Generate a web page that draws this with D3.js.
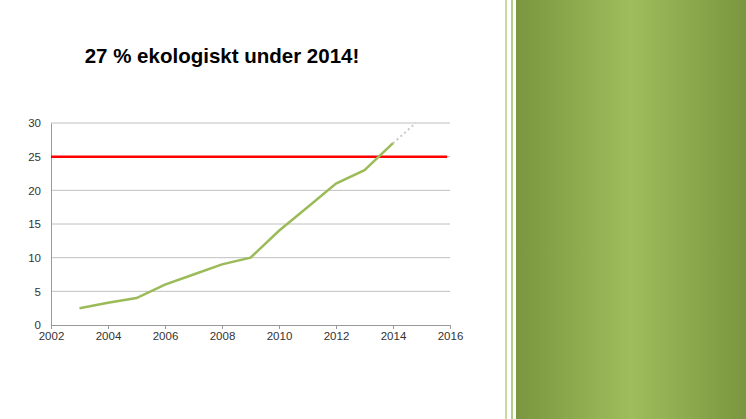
<!DOCTYPE html><html><head><script src="https://cdn.jsdelivr.net/npm/d3@7"></script>
<style>body{margin:0;background:#fff}</style></head><body><svg id="c" width="746" height="419"></svg>
<script>
const years=[2003,2004,2005,2006,2007,2008,2009,2010,2011,2012,2013,2014];
const values=[2.5,3.3,4,6,7.5,9,10,14,17.5,21,23,27];
const projYears=[2014,2014.8];
const projValues=[27,30];
const target=25;
const yTicks=[0,5,10,15,20,25,30];
const xTicks=[2002,2004,2006,2008,2010,2012,2014,2016];
const svg=d3.select("#c");
const defs=svg.append("defs");
const g=defs.append("linearGradient").attr("id","gr");
[[0,"#7a963f"],[0.5,"#9fbd5c"],[1,"#7a963f"]].forEach(s=>g.append("stop").attr("offset",s[0]).attr("stop-color",s[1]));
svg.append("rect").attr("x",516).attr("y",0).attr("width",230).attr("height",419).attr("fill","url(#gr)");
svg.append("rect").attr("x",505).attr("y",0).attr("width",2).attr("height",419).attr("fill","#c5d9a0");
svg.append("rect").attr("x",511).attr("y",0).attr("width",2).attr("height",419).attr("fill","#b3cc85");
svg.append("text").attr("x",222).attr("y",63).attr("text-anchor","middle").attr("font-family","Liberation Sans, Arial").attr("font-weight","bold").attr("font-size",20.5).text("27 % ekologiskt under 2014!");
const x=d3.scaleLinear().domain([2002,2016]).range([51,450]);
const y=d3.scaleLinear().domain([0,30]).range([325,123]);
svg.append("g").selectAll("line").data(yTicks.slice(1)).join("line").attr("x1",51).attr("x2",450).attr("y1",d=>y(d)).attr("y2",d=>y(d)).attr("stroke","#c0c0c0");
svg.append("g").attr("transform","translate(0,325)").call(d3.axisBottom(x).tickValues(xTicks).tickFormat(d3.format("d")).tickSize(4)).call(a=>{a.selectAll("path,line").attr("stroke","#999");a.selectAll("text").attr("font-family","Liberation Sans, Arial").attr("font-size",11.5).attr("fill","#333");});
svg.append("g").attr("transform","translate(51,0)").call(d3.axisLeft(y).tickValues(yTicks).tickSize(0).tickPadding(10)).call(a=>{a.select("path").attr("stroke","#999");a.selectAll("text").attr("font-family","Liberation Sans, Arial").attr("font-size",11.5).attr("fill","#333");});
svg.append("line").attr("x1",x(2002)).attr("x2",x(2015.9)).attr("y1",y(target)).attr("y2",y(target)).attr("stroke","#ff0000").attr("stroke-width",2.5);
const line=d3.line().x(d=>x(d[0])).y(d=>y(d[1]));
svg.append("path").attr("d",line(projYears.map((v,i)=>[v,projValues[i]]))).attr("fill","none").attr("stroke","#c8c8c8").attr("stroke-width",2).attr("stroke-dasharray","2,3");
svg.append("path").attr("d",line(years.map((v,i)=>[v,values[i]]))).attr("fill","none").attr("stroke","#9bbb59").attr("stroke-width",2.5);
</script></body></html>
